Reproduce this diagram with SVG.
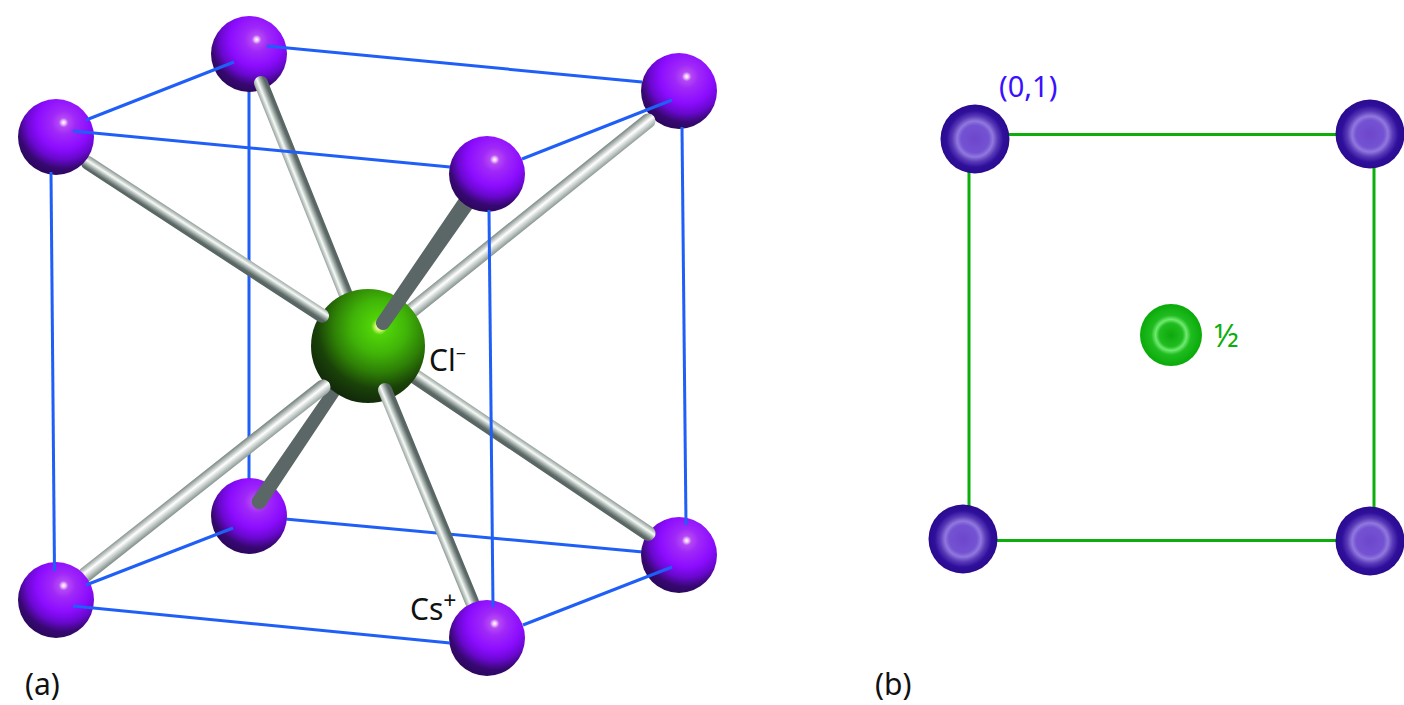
<svg xmlns="http://www.w3.org/2000/svg" width="1404" height="705" viewBox="0 0 1404 705">
<style>
text{font-family:"Noto Sans","Open Sans","Liberation Sans",sans-serif;fill:#111}
.blue{stroke:#1f5ff8;stroke-width:3;fill:none}
.green{stroke:#0cae0c;stroke-width:3;fill:none}
.stick{fill:none;stroke-linecap:round}
.solid{fill:#5a6766}
.cs{fill:url(#csG)}
</style>
<defs>
<radialGradient id="csG" cx=".6" cy=".31" r=".78">
<stop offset="0" stop-color="#ffffff"/><stop offset=".03" stop-color="#f0c8ff"/><stop offset=".08" stop-color="#b448f4"/><stop offset=".2" stop-color="#a028f8"/><stop offset=".45" stop-color="#8c0cff"/><stop offset=".62" stop-color="#6a08d0"/><stop offset=".78" stop-color="#360870"/><stop offset="1" stop-color="#240650"/>
</radialGradient>
<radialGradient id="clG" cx=".6" cy=".33" r=".8">
<stop offset="0" stop-color="#ffffff"/><stop offset=".04" stop-color="#d8f870"/><stop offset=".09" stop-color="#50d408"/><stop offset=".3" stop-color="#40b408"/><stop offset=".5" stop-color="#2e8006"/><stop offset=".68" stop-color="#1a4208"/><stop offset=".85" stop-color="#122a0a"/><stop offset="1" stop-color="#122a0a"/>
</radialGradient>
<radialGradient id="puG">
<stop offset="0" stop-color="#6e46cc"/><stop offset=".4" stop-color="#7452d2"/><stop offset=".52" stop-color="#9078de"/><stop offset=".66" stop-color="#5a3ab8"/><stop offset=".82" stop-color="#2f109c"/><stop offset="1" stop-color="#2a0a8e"/>
</radialGradient>
<radialGradient id="grG">
<stop offset="0" stop-color="#0ca80c"/><stop offset=".38" stop-color="#20bc20"/><stop offset=".5" stop-color="#70ea70"/><stop offset=".64" stop-color="#20bc20"/><stop offset="1" stop-color="#0aaa0a"/>
</radialGradient>
<linearGradient id="shadeA"><stop offset="0" stop-color="#94a09c"/><stop offset=".32" stop-color="#f6faf6"/><stop offset=".62" stop-color="#8d9a96"/><stop offset=".8" stop-color="#5b6866"/><stop offset="1" stop-color="#566462"/></linearGradient>
<linearGradient id="shadeB"><stop offset="0" stop-color="#7d8a86"/><stop offset=".45" stop-color="#ffffff"/><stop offset=".8" stop-color="#b4bebb"/><stop offset="1" stop-color="#8a9692"/></linearGradient>
<linearGradient id="g1" href="#shadeA" gradientUnits="userSpaceOnUse" x1="298.5" y1="195.6" x2="311.5" y2="190.4"/>
<linearGradient id="g2" href="#shadeA" gradientUnits="userSpaceOnUse" x1="209.8" y1="234.1" x2="202.2" y2="245.9"/>
<linearGradient id="g4" href="#shadeB" gradientUnits="userSpaceOnUse" x1="524.3" y1="210.6" x2="533.7" y2="222.4"/>
<linearGradient id="g5" href="#shadeB" gradientUnits="userSpaceOnUse" x1="201.9" y1="473.1" x2="211.1" y2="484.9"/>
<linearGradient id="g7" href="#shadeA" gradientUnits="userSpaceOnUse" x1="421" y1="496.2" x2="434" y2="490.8"/>
<linearGradient id="g8" href="#shadeA" gradientUnits="userSpaceOnUse" x1="535.2" y1="448.3" x2="526.8" y2="460.7"/>
</defs>
<rect width="1404" height="705" fill="#fff"/>

<g id="connectors-back">
<line class="blue" x1="249" y1="90" x2="249" y2="480"/>
<line class="blue" x1="285" y1="519" x2="643" y2="552"/>
</g>

<g id="cs-back-top"><circle class="cs" cx="249" cy="54" r="38"/></g>
<g id="cs-right-top"><circle class="cs" cx="679" cy="91" r="38"/></g>
<g id="cs-back-bottom"><circle class="cs" cx="249" cy="516" r="38"/></g>
<g id="cs-right-bottom"><circle class="cs" cx="679" cy="555" r="38"/></g>

<g id="bonds-behind">
<line class="stick" x1="261" y1="83" x2="352" y2="310" stroke="url(#g1)" stroke-width="14"/>
<line class="stick" x1="648" y1="121" x2="405" y2="316" stroke="url(#g4)" stroke-width="15"/>
<line class="stick" x1="648" y1="533.300" x2="410" y2="373" stroke="url(#g8)" stroke-width="15"/>
<path class="solid" d="M252.8 497.8L340 371.6L350 378.4L265.2 506.2A7.5 7.5 0 0 1 252.8 497.8Z"/>
</g>

<g id="cl-center"><circle cx="368" cy="346" r="57" fill="url(#clG)"/></g>

<g id="bonds-front">
<line class="stick" x1="88" y1="163" x2="322" y2="315.700" stroke="url(#g2)" stroke-width="14"/>
<line class="stick" x1="85" y1="575" x2="323" y2="387" stroke="url(#g5)" stroke-width="15"/>
<line class="stick" x1="385" y1="390" x2="472" y2="602" stroke="url(#g7)" stroke-width="14"/>
<path class="solid" d="M377.2 319L468 185.2L482 194.8L388.8 327A7 7 0 0 1 377.2 319Z"/>
</g>

<g id="cs-left-top"><circle class="cs" cx="56" cy="137" r="38"/></g>
<g id="cs-front-top"><circle class="cs" cx="487" cy="174" r="38"/></g>
<g id="cs-left-bottom"><circle class="cs" cx="56" cy="600" r="38"/></g>
<g id="cs-front-bottom"><circle class="cs" cx="487" cy="638" r="38"/></g>

<g id="connectors-front">
<line class="blue" x1="267" y1="46" x2="642" y2="82"/>
<line class="blue" x1="86" y1="120" x2="234" y2="62"/>
<line class="blue" x1="73" y1="131" x2="450" y2="167"/>
<line class="blue" x1="522" y1="159" x2="672" y2="100"/>
<line class="blue" x1="51" y1="172" x2="54.500" y2="571"/>
<line class="blue" x1="489" y1="210" x2="493" y2="607"/>
<line class="blue" x1="682" y1="127" x2="686" y2="525"/>
<line class="blue" x1="233" y1="528" x2="86" y2="585"/>
<line class="blue" x1="73" y1="606" x2="450" y2="643"/>
<line class="blue" x1="523" y1="625" x2="672" y2="567"/>
</g>

<g id="connectors-square">
<line class="green" x1="1005" y1="134.500" x2="1340" y2="134.500"/>
<line class="green" x1="969" y1="172" x2="969" y2="507"/>
<line class="green" x1="1374" y1="167" x2="1374" y2="508"/>
<line class="green" x1="997" y1="540.500" x2="1338" y2="540.500"/>
</g>
<g id="p-top-left"><circle cx="975" cy="139" r="34.500" fill="url(#puG)"/></g>
<g id="p-top-right"><circle cx="1370" cy="134" r="34.500" fill="url(#puG)"/></g>
<g id="p-bottom-left"><circle cx="963" cy="539" r="34.500" fill="url(#puG)"/></g>
<g id="p-bottom-right"><circle cx="1370" cy="541" r="34.500" fill="url(#puG)"/></g>
<g id="p-center"><circle cx="1171" cy="335" r="31" fill="url(#grG)"/></g>

<g id="labels">
<text x="429" y="371" font-size="30">Cl<tspan font-size="18" dy="-11">−</tspan></text>
<text x="410" y="620" font-size="30">Cs<tspan font-size="23" dy="-11">+</tspan></text>
<text x="25" y="695" font-size="30">(a)</text>
<text x="875" y="695" font-size="30">(b)</text>
<text x="999" y="97" font-size="29" style="fill:#3a10ff">(0,1)</text>
<text x="1214" y="347" font-size="32" style="fill:#0cae0c">½</text>
</g>
</svg>
